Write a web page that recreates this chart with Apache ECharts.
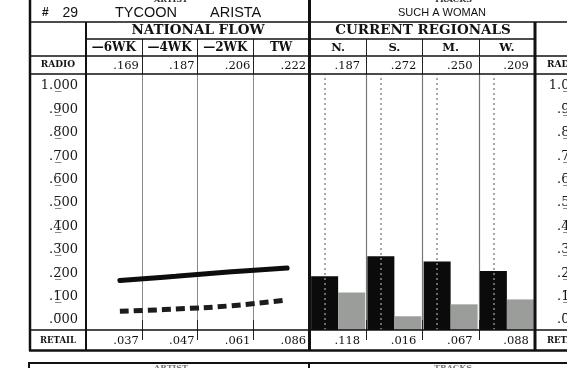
<!DOCTYPE html>
<html><head><meta charset="utf-8">
<script src="https://cdn.jsdelivr.net/npm/echarts@6/dist/echarts.min.js"></script>
<style>html,body{margin:0;padding:0;background:#fff}#c{width:567px;height:368px}</style>
</head><body><div id="c"></div>
<script>
// ---- data ----
const chartRank = '29';
const artistName = 'TYCOON';
const labelName = 'ARISTA';
const trackName = 'SUCH A WOMAN';
const weeks = ['\u20146WK', '\u20144WK', '\u20142WK', 'TW'];
const nationalRadio = [0.169, 0.187, 0.206, 0.222];
const nationalRetail = [0.037, 0.047, 0.061, 0.086];
const regions = ['N.', 'S.', 'M.', 'W.'];
const regionalRadio = [0.187, 0.272, 0.250, 0.209];
const regionalRetail = [0.118, 0.016, 0.067, 0.088];
const yTicks = [0, 0.1, 0.2, 0.3, 0.4, 0.5, 0.6, 0.7, 0.8, 0.9, 1.0];

// ---- helpers ----
const SERIF = '"DejaVu Serif", serif';
const fmtVal = v => v.toFixed(3).replace(/^0/, '');
function tickFmt(v) {
  const s = v.toFixed(3);
  const intPart = s[0] === '1' ? '1' : '';
  const d = s.slice(2);
  let mark;
  if (v >= 0.999) mark = '\u0332';
  else if (v < 0.001) mark = '\u0305';
  else mark = '\u0305\u0332';
  return intPart + '.' + d[0] + mark + d.slice(1);
}
const Y_MIN = -0.0427, Y_MAX = 1.0513;

const chart = echarts.init(document.getElementById('c'), null, {renderer: 'canvas'});

function valueAxisLabel(arr, w) {
  return {
    show: true, interval: 0, verticalAlign: 'middle',
    formatter: (val, idx) => '{v|' + fmtVal(arr[idx]) + '}',
    rich: { v: { width: w, align: 'right', fontFamily: SERIF, fontSize: 11.5, color: '#111' } }
  };
}

const hLine = (x1, y1, x2, y2, w) => ({ type: 'line', shape: {x1, y1, x2, y2}, style: {stroke: '#111', lineWidth: w}, z: 100 });
const txt = (x, y, t, font, align, color) => ({ type: 'text', x, y, style: { text: t, font, fill: color || '#111', textAlign: align || 'left', textVerticalAlign: 'middle' }, z: 100 });

const option = {
  backgroundColor: '#ffffff',
  animation: false,
  grid: [
    { left: 86, top: 74, width: 223, height: 256, outerBoundsMode: 'none' },
    { left: 310, top: 74, width: 225, height: 256, outerBoundsMode: 'none' },
    { left: 92, top: 74, width: 223, height: 256, outerBoundsMode: 'none' }
  ],
  xAxis: [
    // 0: national bottom (retail values)
    { type: 'category', gridIndex: 0, position: 'bottom', data: weeks, boundaryGap: true,
      axisLine: {show: false},
      axisTick: {show: true, interval: 0, length: 20, lineStyle: {color: '#222', width: 1}},
      axisLabel: Object.assign(valueAxisLabel(nationalRetail, 50), {margin: 11}),
      splitLine: {show: true, interval: 0, lineStyle: {color: '#8a8a8a', width: 1}} },
    // 1: national top (radio values)
    { type: 'category', gridIndex: 0, position: 'top', data: weeks, boundaryGap: true,
      axisLine: {show: false},
      axisTick: {show: true, interval: 0, length: 35, lineStyle: {color: '#222', width: 1}},
      axisLabel: Object.assign(valueAxisLabel(nationalRadio, 50), {margin: 8}),
      splitLine: {show: false} },
    // 2: national week headers
    { type: 'category', gridIndex: 0, position: 'top', offset: 18, data: weeks, boundaryGap: true,
      axisLine: {show: false}, axisTick: {show: false},
      axisLabel: {show: true, interval: 0, margin: 8, verticalAlign: 'middle', fontFamily: SERIF, fontWeight: 'bold', fontSize: 12, color: '#111'},
      splitLine: {show: false} },
    // 3: regional bottom (retail values)
    { type: 'category', gridIndex: 1, position: 'bottom', data: regions, boundaryGap: true,
      axisLine: {show: false},
      axisTick: {show: true, interval: 0, length: 20, lineStyle: {color: '#222', width: 1}},
      axisLabel: Object.assign(valueAxisLabel(regionalRetail, 44), {margin: 11}),
      splitLine: {show: true, interval: 0, lineStyle: {color: '#777', width: 1.2}} },
    // 4: regional top (radio values)
    { type: 'category', gridIndex: 1, position: 'top', data: regions, boundaryGap: true,
      axisLine: {show: false},
      axisTick: {show: true, interval: 0, length: 17, lineStyle: {color: '#222', width: 1}},
      axisLabel: Object.assign(valueAxisLabel(regionalRadio, 44), {margin: 8}),
      splitLine: {show: false} },
    // 5: regional headers
    { type: 'category', gridIndex: 1, position: 'top', offset: 18, data: regions, boundaryGap: true,
      axisLine: {show: false},
      axisTick: {show: true, interval: 0, length: 17, lineStyle: {color: '#222', width: 1}},
      axisLabel: {show: true, interval: 0, margin: 8, verticalAlign: 'middle', fontFamily: SERIF, fontWeight: 'bold', fontSize: 11.5, color: '#111'},
      splitLine: {show: false} },
    // 6: hidden axis for national lines
    { type: 'category', gridIndex: 2, data: weeks, boundaryGap: true, show: false }
  ],
  yAxis: [
    { type: 'value', gridIndex: 0, position: 'left', min: Y_MIN, max: Y_MAX,
      axisLine: {show: false}, axisTick: {show: false}, splitLine: {show: false},
      axisLabel: {show: true, customValues: yTicks, margin: 8, formatter: tickFmt,
        fontFamily: SERIF, fontSize: 13, color: '#1a1a1a'} },
    { type: 'value', gridIndex: 1, position: 'right', min: Y_MIN, max: Y_MAX, startValue: Y_MIN,
      axisLine: {show: false}, axisTick: {show: false}, splitLine: {show: false},
      axisLabel: {show: true, customValues: yTicks, margin: 51, align: 'right', formatter: tickFmt,
        fontFamily: SERIF, fontSize: 13, color: '#1a1a1a'} },
    { type: 'value', gridIndex: 2, min: Y_MIN, max: Y_MAX, show: false }
  ],
  series: [
    { name: 'National radio', type: 'line', xAxisIndex: 6, yAxisIndex: 2, data: nationalRadio,
      smooth: 0.45, symbol: 'none', lineStyle: {color: '#0d0d0d', width: 5, cap: 'round'}, z: 5 },
    { name: 'National retail', type: 'line', xAxisIndex: 6, yAxisIndex: 2, data: nationalRetail,
      smooth: 0.45, symbol: 'none', lineStyle: {color: '#1c1c1c', width: 5, type: [9, 5], cap: 'butt'}, z: 5 },
    { name: 'Regional radio', type: 'bar', xAxisIndex: 3, yAxisIndex: 1, data: regionalRadio,
      barWidth: 27, barGap: '0%', itemStyle: {color: '#0b0b0b'},
      markLine: { silent: true, symbol: ['none', 'none'], label: {show: false},
        lineStyle: {type: [2, 3], color: '#8c8c8c', width: 1.5},
        data: regions.map(r => ({xAxis: r})) } },
    { name: 'Regional retail', type: 'bar', xAxisIndex: 3, yAxisIndex: 1, data: regionalRetail,
      barWidth: 27, barGap: '0%', itemStyle: {color: '#9b9d9b'} }
  ],
  graphic: [
    // table rules
    hLine(30, 22, 567, 22, 1.5),
    hLine(86, 39, 535, 39, 1.5),
    hLine(30, 56, 567, 56, 1.5),
    hLine(30, 74, 567, 74, 1.5),
    hLine(30, 330, 567, 330, 1.5),
    hLine(29, 350.5, 567, 350.5, 2.5),
    hLine(30, 0, 30, 351, 2.5),
    hLine(86, 22, 86, 351, 2),
    hLine(309.5, 0, 309.5, 351, 3),
    hLine(535, 22, 535, 351, 3),
    // next table top
    hLine(28, 363, 567, 363, 2),
    hLine(29, 363, 29, 368, 2),
    hLine(309, 363, 309, 368, 2),
    // header texts
    txt(171, 0, 'ARTIST', 'bold 8px ' + SERIF, 'center', '#333'),
    txt(453, 0, 'TRACKS', 'bold 8px ' + SERIF, 'center', '#333'),
    txt(42, 13, '#', 'bold 12px "Liberation Sans"', 'left'),
    txt(78, 13, chartRank, '14px "Liberation Sans"', 'right'),
    txt(115, 13, artistName, '14.5px "Liberation Sans"', 'left'),
    txt(210, 13, labelName, '14.5px "Liberation Sans"', 'left'),
    txt(442, 13, trackName, '11px "Liberation Sans"', 'center'),
    txt(198, 30.5, 'NATIONAL FLOW', 'bold 13.5px ' + SERIF, 'center'),
    txt(423, 30.5, 'CURRENT REGIONALS', 'bold 13.5px ' + SERIF, 'center'),
    txt(58, 65, 'RADIO', 'bold 9px ' + SERIF, 'center'),
    txt(58, 341, 'RETAIL', 'bold 8.5px ' + SERIF, 'center'),
    txt(547, 65, 'RADIO', 'bold 9px ' + SERIF, 'left'),
    txt(547, 341, 'RETAIL', 'bold 8.5px ' + SERIF, 'left'),
    txt(171, 368, 'ARTIST', 'bold 8px ' + SERIF, 'center', '#777'),
    txt(453, 368, 'TRACKS', 'bold 8px ' + SERIF, 'center', '#777')
  ]
};
chart.setOption(option);
</script>
</body></html>
